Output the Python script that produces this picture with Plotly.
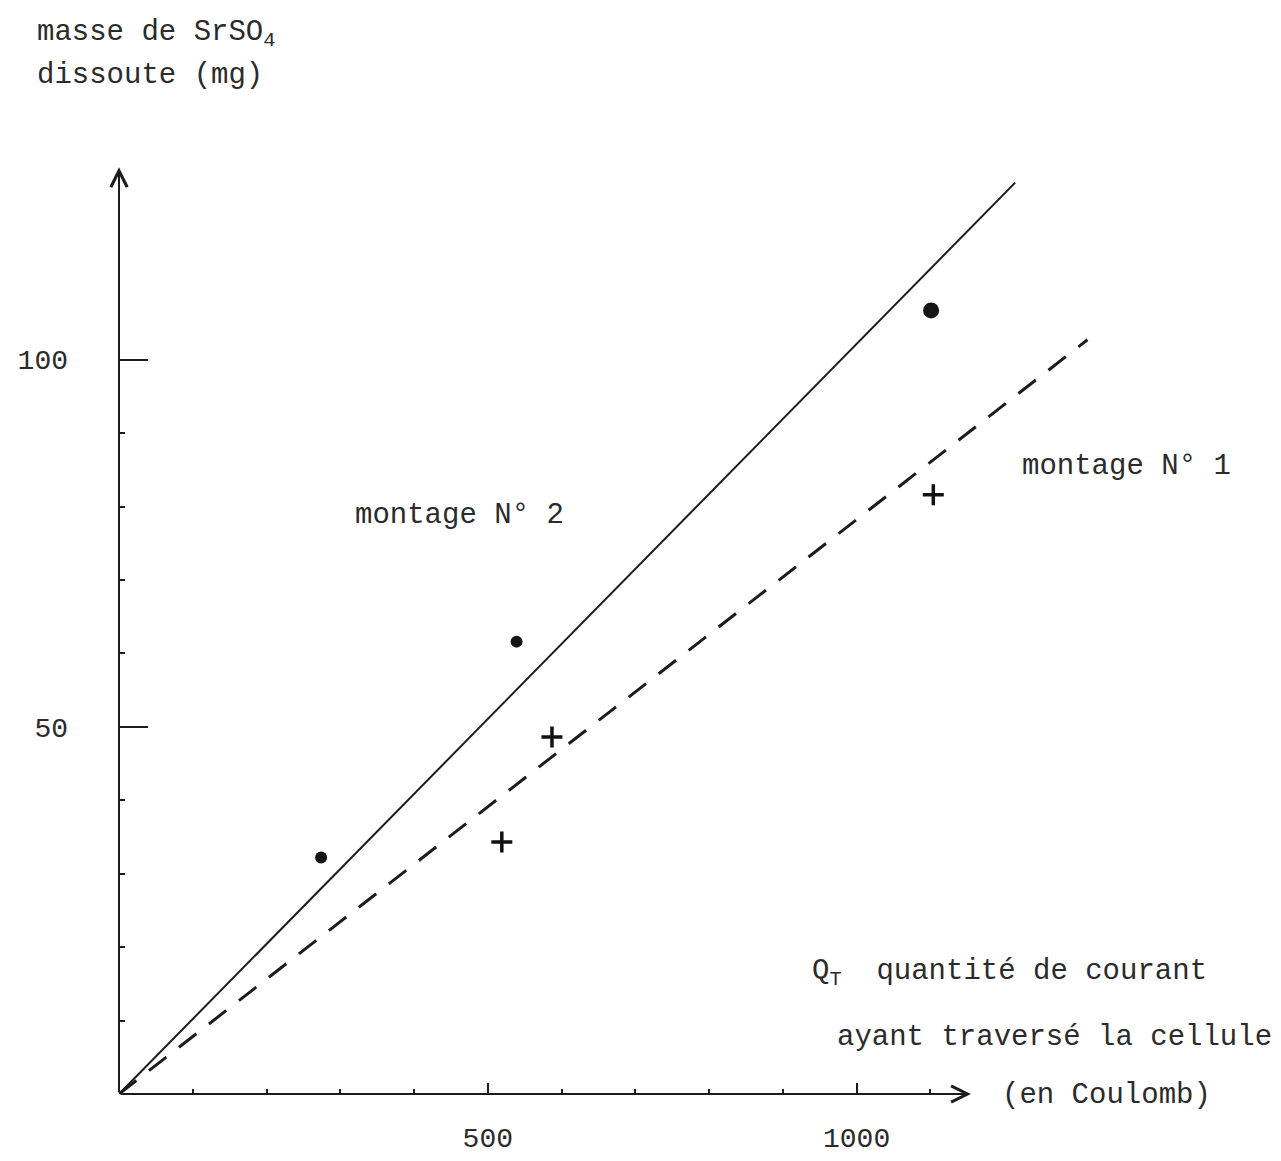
import plotly.graph_objects as go

# montage N° 2 (points) and N° 1 (croix)
q_m2 = [274, 539, 1101]
m_m2 = [32.2, 61.6, 106.7]
size_m2 = [12, 12, 16]

q_m1 = [519, 587, 1104]
m_m1 = [34.3, 48.6, 81.6]

# droites tracées à la main
q_line2 = [0, 1215]
m_line2 = [0, 124.1]
q_line1 = [0, 1313]
m_line1 = [0, 102.7]

x_ticks = [500, 1000]
x_minor = [100, 200, 300, 400, 600, 700, 800, 900, 1100]
y_ticks = [50, 100]
y_minor = [10, 20, 30, 40, 60, 70, 80, 90]

x_max, y_max = 1330, 128
x_arrow, y_arrow = 1155, 126.2

FONT = "Liberation Mono"
INK = "#1c1c1c"
TXT = "#2b2b2b"

# page has an 8px body margin: work in page pixels, then shift
OFF = 8
W, H = 1281 - OFF, 1161 - OFF
L, T, R, B = 119 - OFF, 154 - OFF, 1100 - OFF, 1094 - OFF

def paper_x(px):
    return (px - OFF - L) / (R - L)
def paper_y(py):
    return (B - (py - OFF)) / (B - T)

fig = go.Figure()
fig.add_trace(go.Scatter(x=q_line2, y=m_line2, mode="lines",
                         line=dict(color=INK, width=2)))
fig.add_trace(go.Scatter(x=q_line1, y=m_line1, mode="lines",
                         line=dict(color=INK, width=3, dash="22px,16px")))
fig.add_trace(go.Scatter(x=q_m2, y=m_m2, mode="markers",
                         marker=dict(color="#151515", size=size_m2, opacity=1,
                                     line=dict(width=0))))
fig.add_trace(go.Scatter(x=q_m1, y=m_m1, mode="markers",
                         marker=dict(symbol="cross-thin", size=15, opacity=1,
                                     line=dict(color="#111111", width=3.5))))

# axes with arrows
fig.add_annotation(x=x_arrow, y=0, ax=0, ay=0, xref="x", yref="y", axref="x", ayref="y",
                   text="", showarrow=True, arrowhead=5, arrowsize=1.6, arrowwidth=2, arrowcolor=INK)
fig.add_annotation(x=0, y=y_arrow, ax=0, ay=0, xref="x", yref="y", axref="x", ayref="y",
                   text="", showarrow=True, arrowhead=5, arrowsize=1.6, arrowwidth=2, arrowcolor=INK)

texts = [
    ("masse de SrSO<sub>4</sub>", 35, 34),
    ("dissoute (mg)", 35, 76),
    ("montage N° 2", 353, 516),
    ("montage N° 1", 1020, 467),
    ("Q<sub>T</sub>  quantité de courant", 810, 973),
    ("ayant traversé la cellule", 835, 1037),
    ("(en Coulomb)", 1000, 1095),
]
for txt, px, py in texts:
    fig.add_annotation(x=paper_x(px), y=paper_y(py), xref="paper", yref="paper", text=txt,
                       showarrow=False, xanchor="left", yanchor="middle",
                       font=dict(family=FONT, size=29, color=TXT))

fig.update_xaxes(range=[0, x_max], showgrid=False, zeroline=False, showline=False,
                 tickmode="array", tickvals=x_ticks, ticks="inside", ticklen=11,
                 tickwidth=2, tickcolor=INK, ticklabelstandoff=24,
                 minor=dict(tickmode="array", tickvals=x_minor, ticks="inside",
                            ticklen=5, tickwidth=2, tickcolor=INK, showgrid=False),
                 tickfont=dict(family=FONT, size=28, color=TXT), automargin=False)
fig.update_yaxes(range=[0, y_max], showgrid=False, zeroline=False, showline=False,
                 tickmode="array", tickvals=y_ticks, ticks="inside", ticklen=29,
                 tickwidth=2, tickcolor=INK, ticklabelstandoff=50,
                 minor=dict(tickmode="array", tickvals=y_minor, ticks="inside",
                            ticklen=6, tickwidth=2, tickcolor=INK, showgrid=False),
                 tickfont=dict(family=FONT, size=28, color=TXT), automargin=False)

fig.update_layout(width=W, height=H, showlegend=False,
                  margin=dict(l=L, r=W - R, t=T, b=H - B),
                  paper_bgcolor="white", plot_bgcolor="white")

fig.write_html("out.html")
